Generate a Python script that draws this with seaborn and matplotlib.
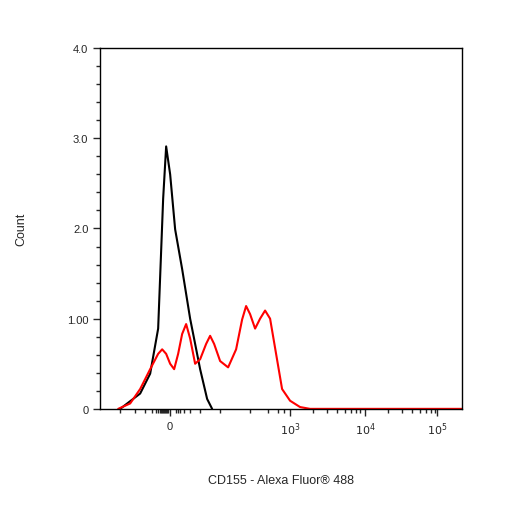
import numpy as np
import matplotlib
matplotlib.use("Agg")
import matplotlib.pyplot as plt
import seaborn as sns

sns.set_style("ticks")
plt.rcParams['font.family'] = ['Liberation Sans', 'DejaVu Sans']

# x in display channel units (biexponential scale, 0..362), y in counts
ctrl_x = [20, 40, 50, 58, 63, 66, 70, 75, 82, 90, 100, 107, 112]
ctrl_y = [0.0, 0.17, 0.39, 0.89, 2.33, 2.91, 2.60, 1.99, 1.55, 1.00, 0.44, 0.11, 0.0]

cd155_x = [18, 30, 40, 50, 58, 62, 66, 70, 74, 78, 82, 86, 90, 95, 100, 106, 110, 114,
           120, 128, 136, 142, 146, 150, 155, 160, 165, 170, 176, 182, 190, 200, 210, 362]
cd155_y = [0.0, 0.06, 0.22, 0.44, 0.61, 0.66, 0.61, 0.50, 0.44, 0.61, 0.83, 0.94, 0.78,
           0.50, 0.55, 0.72, 0.81, 0.72, 0.53, 0.46, 0.66, 0.99, 1.14, 1.05, 0.89, 1.00,
           1.09, 1.00, 0.61, 0.22, 0.09, 0.02, 0.0, 0.0]

xtick_pos = [70, 190, 265, 337]
xtick_lab = ["0", "$10^3$", "$10^4$", "$10^5$"]
xminor = [20, 35, 45, 52, 56, 58, 60, 61, 62, 63, 64, 65, 66, 67, 68, 76, 78, 80, 84, 90, 100,
          120, 150, 168, 178, 184, 213, 227, 237, 245, 251, 256, 260, 288, 302, 312, 320, 326,
          331, 335]
ytick_pos = [0, 1, 2, 3, 4]
ytick_lab = ["0", "1.00", "2.0", "3.0", "4.0"]

fig = plt.figure(figsize=(5.06, 5.06), dpi=100)
ax = fig.add_axes([0.198, 0.19, 0.715, 0.713])
sns.lineplot(x=ctrl_x, y=ctrl_y, color="black", lw=1.5, ax=ax, sort=False)
sns.lineplot(x=cd155_x, y=cd155_y, color="#ff0000", lw=1.5, ax=ax, sort=False)
ax.set_xlim(0, 362)
ax.set_ylim(0, 4.0)
ax.set_xticks(xtick_pos)
ax.set_xticklabels(xtick_lab, fontsize=8)
ax.set_xticks(xminor, minor=True)
ax.set_yticks(ytick_pos)
ax.set_yticklabels(ytick_lab, fontsize=8)
ax.set_yticks(np.arange(0, 4.01, 0.2), minor=True)
ax.tick_params(which="major", length=5, width=1)
ax.tick_params(which="minor", length=3, width=1)
for s in ax.spines.values():
    s.set_linewidth(1)
    s.set_color("black")
ax.set_xlabel("CD155 - Alexa Fluor® 488", fontsize=9)
ax.set_ylabel("Count", fontsize=9)
ax.xaxis.set_label_coords(0.5, -0.18)
ax.yaxis.set_label_coords(-0.2, 0.5)
fig.savefig("out.png", dpi=100)
